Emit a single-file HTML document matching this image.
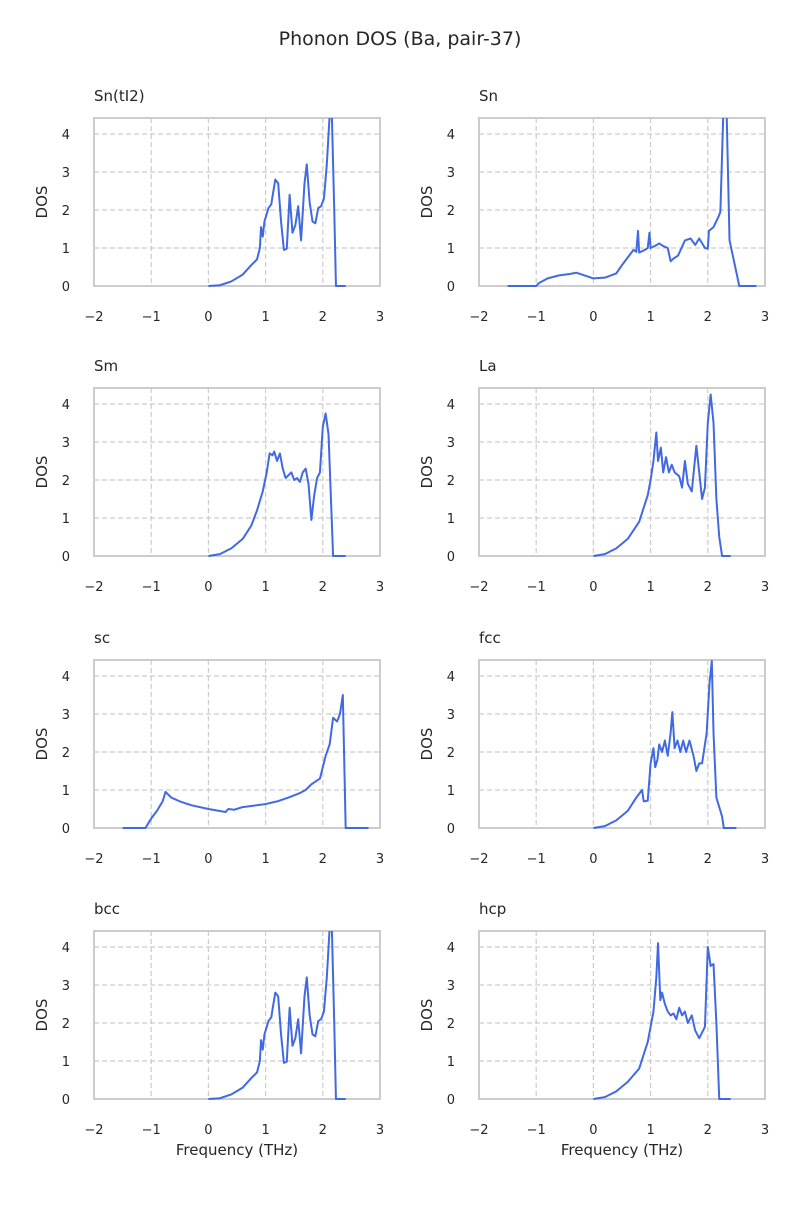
<!DOCTYPE html>
<html><head><meta charset="utf-8"><style>
body{margin:0;background:#fff;font-family:"Liberation Sans","DejaVu Sans",sans-serif}
svg text{font-family:"DejaVu Sans","Liberation Sans",sans-serif;fill:#262626}
</style></head><body>
<svg id="fig" width="800" height="1200" viewBox="0 0 800 1200">
<text x="400" y="45" font-size="19" text-anchor="middle">Phonon DOS (Ba, pair-37)</text>
</svg>
<script>
const titles=["Sn(tI2)","Sn","Sm","La","sc","fcc","bcc","hcp"];
const xTicks=[-2,-1,0,1,2,3];
const yTicks=[0,1,2,3,4];
const snTI2=[[0,0],[0.2,0.02],[0.4,0.12],[0.6,0.3],[0.75,0.55],[0.85,0.7],[0.9,1.0],[0.92,1.55],[0.95,1.3],[0.98,1.7],[1.02,1.9],[1.05,2.05],[1.1,2.15],[1.12,2.35],[1.17,2.8],[1.22,2.7],[1.27,1.7],[1.32,0.95],[1.37,0.98],[1.42,2.4],[1.47,1.4],[1.52,1.6],[1.57,2.1],[1.62,1.2],[1.68,2.7],[1.72,3.2],[1.77,2.2],[1.82,1.7],[1.87,1.65],[1.92,2.05],[1.97,2.1],[2.02,2.3],[2.07,3.2],[2.12,4.5],[2.15,5],[2.2,2.0],[2.23,0],[2.4,0]];
const sn=[[-1.5,0],[-1.0,0],[-0.95,0.08],[-0.8,0.2],[-0.6,0.28],[-0.4,0.32],[-0.3,0.35],[-0.2,0.3],[0,0.2],[0.2,0.22],[0.4,0.33],[0.5,0.55],[0.6,0.75],[0.7,0.95],[0.75,0.9],[0.78,1.45],[0.8,0.88],[0.9,0.95],[0.95,1.0],[0.98,1.4],[1.0,1.0],[1.07,1.05],[1.15,1.12],[1.22,1.05],[1.3,1.0],[1.35,0.65],[1.4,0.72],[1.48,0.8],[1.6,1.2],[1.7,1.25],[1.78,1.08],[1.85,1.25],[1.95,1.0],[2.0,0.98],[2.02,1.45],[2.1,1.55],[2.18,1.8],[2.22,1.95],[2.27,4.5],[2.33,4.5],[2.38,1.2],[2.48,0.5],[2.55,0],[2.85,0]];
const sm=[[0,0],[0.2,0.05],[0.4,0.2],[0.6,0.45],[0.75,0.8],[0.85,1.2],[0.95,1.7],[1.02,2.2],[1.07,2.7],[1.12,2.65],[1.15,2.75],[1.2,2.5],[1.25,2.7],[1.3,2.3],[1.35,2.05],[1.45,2.2],[1.5,2.0],[1.55,2.05],[1.6,1.95],[1.65,2.2],[1.7,2.3],[1.75,1.9],[1.8,0.95],[1.85,1.6],[1.9,2.05],[1.95,2.2],[2.0,3.4],[2.05,3.75],[2.1,3.2],[2.18,0],[2.4,0]];
const la=[[0,0],[0.2,0.05],[0.4,0.2],[0.6,0.45],[0.8,0.9],[0.95,1.6],[1.0,2.0],[1.05,2.5],[1.1,3.25],[1.13,2.5],[1.18,2.85],[1.22,2.2],[1.27,2.6],[1.32,2.2],[1.37,2.4],[1.42,2.2],[1.5,2.1],[1.55,1.8],[1.6,2.5],[1.65,1.9],[1.72,1.7],[1.8,2.9],[1.85,2.2],[1.9,1.5],[1.95,1.8],[2.0,3.5],[2.05,4.25],[2.1,3.5],[2.15,1.5],[2.2,0.5],[2.25,0],[2.4,0]];
const sc=[[-1.5,0],[-1.1,0],[-1.0,0.25],[-0.9,0.45],[-0.8,0.7],[-0.75,0.95],[-0.65,0.8],[-0.5,0.7],[-0.3,0.6],[0,0.5],[0.3,0.42],[0.35,0.5],[0.45,0.48],[0.6,0.55],[1.0,0.63],[1.2,0.7],[1.4,0.8],[1.6,0.92],[1.7,1.0],[1.8,1.15],[1.95,1.3],[2.05,1.9],[2.12,2.2],[2.18,2.9],[2.25,2.8],[2.3,3.0],[2.35,3.5],[2.4,0],[2.8,0]];
const fcc=[[0,0],[0.2,0.05],[0.4,0.2],[0.6,0.45],[0.75,0.8],[0.85,1.0],[0.88,0.7],[0.95,0.72],[1.0,1.7],[1.05,2.1],[1.08,1.6],[1.12,1.8],[1.15,2.2],[1.2,2.0],[1.25,2.3],[1.3,1.9],[1.35,2.5],[1.38,3.05],[1.42,2.1],[1.47,2.3],[1.52,2.0],[1.57,2.3],[1.62,2.0],[1.68,2.3],[1.75,1.9],[1.8,1.5],[1.85,1.7],[1.9,1.7],[1.98,2.5],[2.03,3.8],[2.07,4.4],[2.1,2.5],[2.15,0.8],[2.25,0.3],[2.28,0],[2.5,0]];
const bcc=snTI2.map(p=>[p[0],p[1]]);
const hcp=[[0,0],[0.2,0.05],[0.4,0.2],[0.6,0.45],[0.8,0.8],[0.95,1.5],[1.05,2.3],[1.1,3.2],[1.13,4.1],[1.17,2.6],[1.2,2.8],[1.25,2.5],[1.3,2.3],[1.35,2.2],[1.4,2.25],[1.45,2.1],[1.5,2.4],[1.55,2.2],[1.6,2.3],[1.65,2.0],[1.72,2.2],[1.78,1.8],[1.85,1.6],[1.95,1.9],[2.0,4.0],[2.05,3.5],[2.1,3.55],[2.15,2.0],[2.2,0],[2.4,0]];
const series=[snTI2,sn,sm,la,sc,fcc,bcc,hcp];

const NS="http://www.w3.org/2000/svg";
const svg=document.getElementById('fig');
function mk(tag,attrs,parent){const e=document.createElementNS(NS,tag);for(const k in attrs)e.setAttribute(k,attrs[k]);(parent||svg).appendChild(e);return e;}
const colX=[94,479],rowY=[118,388,660,931],W=286,H=168;
const XMIN=-2,XMAX=3,YMIN=0,YMAX=4.42;
series.forEach((data,i)=>{
  const L=colX[i%2],T=rowY[Math.floor(i/2)];
  const sx=v=>L+(v-XMIN)/(XMAX-XMIN)*W;
  const sy=v=>T+H-(v-YMIN)/(YMAX-YMIN)*H;
  const g=mk('g',{});
  
  
  const cp=mk('clipPath',{id:'cp'+i},g);mk('rect',{x:L,y:T,width:W,height:H+2},cp);
  xTicks.forEach(t=>{
    if(t>XMIN&&t<XMAX){const gl=mk('line',{x1:sx(t),x2:sx(t),y1:T,y2:T+H,stroke:'#cccccc','stroke-width':1.2,'stroke-dasharray':'5,3'},g);
    }
    const tl=mk('text',{x:sx(t),y:T+H+35,'font-size':13,'text-anchor':'middle'},g);tl.textContent=(t<0?'\u2212'+(-t):t);
    
  });
  yTicks.forEach(t=>{
    if(t>YMIN){const gl=mk('line',{x1:L,x2:L+W,y1:sy(t),y2:sy(t),stroke:'#cccccc','stroke-width':1.2,'stroke-dasharray':'5,3'},g);
    }
    const tl=mk('text',{x:L-24,y:sy(t)+5,'font-size':13,'text-anchor':'end'},g);tl.textContent=t;
    
  });
  const fr=mk('rect',{x:L,y:T,width:W,height:H,fill:'none',stroke:'#cccccc','stroke-width':2},g);
  
  const line=mk('polyline',{points:data.map(p=>sx(p[0])+','+sy(p[1])).join(' '),fill:'none',stroke:'#4169e1','stroke-width':2,'stroke-linejoin':'round','clip-path':'url(#cp'+i+')'},g);
  
  const tt=mk('text',{x:L,y:T-17,'font-size':15},g);tt.textContent=titles[i];
  
  const yl=mk('text',{x:0,y:0,'font-size':15,'text-anchor':'middle',transform:'translate('+(L-47)+','+(T+H/2)+') rotate(-90)'},g);yl.textContent='DOS';
  
  if(i>=6){const xl=mk('text',{x:L+W/2,y:T+H+56,'font-size':15,'text-anchor':'middle'},g);xl.textContent='Frequency (THz)';
  }
});
</script>
</body></html>
